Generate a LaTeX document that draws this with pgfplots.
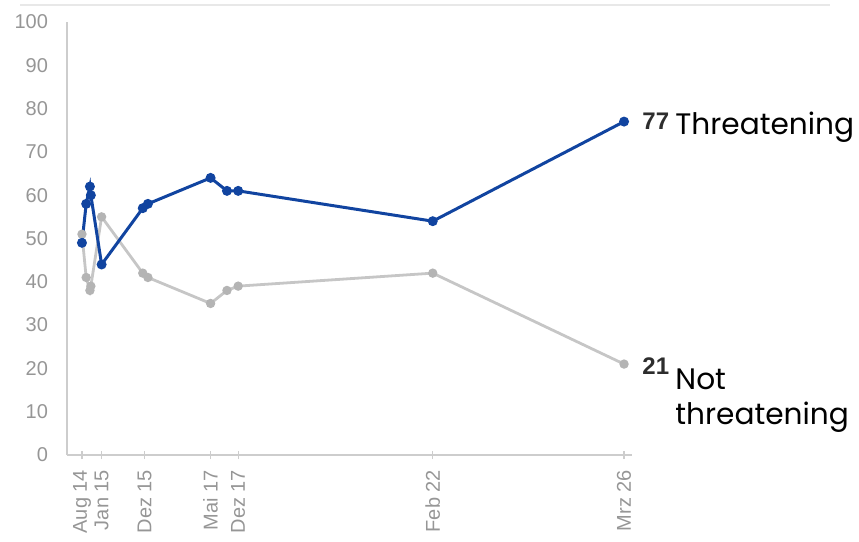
\documentclass[border=0pt]{standalone}
\usepackage{fontspec}
\setmainfont{Liberation Sans}
\newfontfamily\gothic{Poppins}
\usepackage{pgfplots}
\pgfplotsset{compat=1.18}

\definecolor{darkblue}{RGB}{17,68,160}
\definecolor{lightgrey}{RGB}{198,198,198}
\definecolor{markgrey}{RGB}{180,180,180}
\definecolor{ticktext}{RGB}{150,150,150}
\definecolor{axisgrey}{RGB}{205,205,205}
\definecolor{numgrey}{RGB}{45,45,45}

\begin{document}
\begin{tikzpicture}
% page = 859 x 542 px, 1 px = 0.5pt, origin at lower left of plot area (px 67,455)
\useasboundingbox (-33.5pt,-43.5pt) rectangle (396pt,227.5pt);
\draw[color=black!9, line width=1pt] (-23.5pt,225pt) -- (381.5pt,225pt);
\begin{axis}[
    at={(0,0)}, anchor=south west,
    scale only axis,
    width=282.5pt, height=216.5pt,
    xmin=2014.26, xmax=2026.34,
    ymin=0, ymax=100,
    axis x line*=bottom,
    axis y line*=left,
    axis line style={axisgrey, line width=0.8pt},
    xtick={2014.58,2015.0,2015.92,2017.33,2017.92,2022.08,2026.17},
    xticklabels={Aug 14, Jan 15, Dez 15, Mai 17, Dez 17, Feb 22, Mrz 26},
    ytick={0,10,...,100},
    tick align=center,
    major tick length=4pt,
    x tick style={axisgrey, line width=0.6pt},
    y tick style={draw=none},
    /pgf/number format/assume math mode=true,
    tick label style={font=\fontsize{10}{12}\selectfont, text=ticktext},
    x tick label style={rotate=90, anchor=east},
    xticklabel shift=2pt,
    yticklabel shift=4pt,
    clip=false,
]
\addplot[color=lightgrey, line width=1.4pt, mark=*, mark size=1.6pt,
    mark options={fill=markgrey, draw=markgrey}] coordinates {
    (2014.58,51) (2014.67,41) (2014.75,38) (2014.77,39) (2015.0,55)
    (2015.88,42) (2015.99,41) (2017.33,35) (2017.68,38) (2017.92,39)
    (2022.08,42) (2026.17,21)
};
\addplot[color=darkblue, line width=1.5pt, mark=*, mark size=1.7pt,
    mark options={fill=darkblue, draw=darkblue}] coordinates {
    (2014.58,49) (2014.67,58) (2014.75,62) (2014.77,60) (2015.0,44)
    (2015.88,57) (2015.99,58) (2017.33,64) (2017.68,61) (2017.92,61)
    (2022.08,54) (2026.17,77)
};
\node[anchor=west, inner sep=0pt, xshift=9pt, text=numgrey,
    font=\bfseries\fontsize{12}{14}\selectfont] at (axis cs:2026.17,77) {77};
\node[anchor=base west, inner sep=0pt, xshift=25.5pt, yshift=-6.5pt,
    font=\gothic\fontsize{14.8}{17.5}\selectfont] at (axis cs:2026.17,77) {Threatening};
\node[anchor=west, inner sep=0pt, xshift=9pt, yshift=-1pt, text=numgrey,
    font=\bfseries\fontsize{12}{14}\selectfont] at (axis cs:2026.17,21) {21};
\node[anchor=base west, inner sep=0pt, xshift=25.5pt, yshift=-12.5pt,
    font=\gothic\fontsize{14.8}{17.5}\selectfont] at (axis cs:2026.17,21) {Not};
\node[anchor=base west, inner sep=0pt, xshift=25.5pt, yshift=-30pt,
    font=\gothic\fontsize{14.8}{17.5}\selectfont] at (axis cs:2026.17,21) {threatening};
\end{axis}
\end{tikzpicture}
\end{document}
